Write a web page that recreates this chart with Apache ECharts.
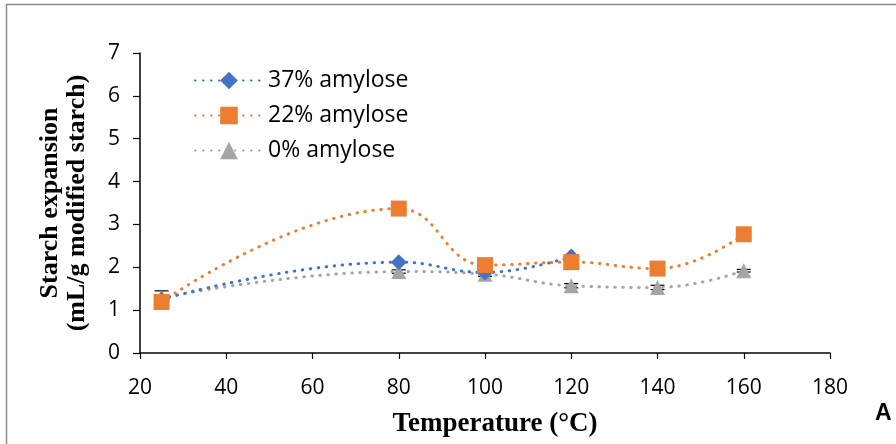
<!DOCTYPE html>
<html>
<head>
<meta charset="utf-8">
<script src="https://cdn.jsdelivr.net/npm/echarts@6/dist/echarts.min.js"></script>
<style>
  html, body { margin: 0; padding: 0; background: #fff; }
  #chart { width: 896px; height: 444px; }
</style>
</head>
<body>
<div id="chart"></div>
<script>
// Starch expansion vs. temperature for three amylose contents
const temperature37 = [25, 80, 100, 120];
const amylose37 = [1.25, 2.12, 1.88, 2.25];
const temperature22 = [25, 80, 100, 120, 140, 160];
const amylose22 = [1.19, 3.37, 2.05, 2.12, 1.97, 2.77];
const temperature0 = [25, 80, 100, 120, 140, 160];
const amylose0 = [1.29, 1.90, 1.84, 1.57, 1.53, 1.92];
// standard deviations for the 0% amylose samples
const errors0 = [0.16, 0.04, 0.05, 0.05, 0.05, 0.03];

const xTicks = [20, 40, 60, 80, 100, 120, 140, 160, 180];
const yTicks = [0, 1, 2, 3, 4, 5, 6, 7];

const pairs = (xs, ys) => xs.map((x, i) => [x, ys[i]]);

const dotted = color => ({ color: color, width: 3, type: [0.5, 7.5], cap: 'round' });

const sansFont = '"Open Sans", "Liberation Sans", sans-serif';
const serifFont = '"Liberation Serif", "Times New Roman", serif';

const chart = echarts.init(document.getElementById('chart'));

const errorBars = {
  type: 'custom',
  silent: true,
  z: 1,
  data: temperature0.map((x, i) => [x, amylose0[i] - errors0[i], amylose0[i] + errors0[i]]),
  renderItem: function (params, api) {
    const lo = api.coord([api.value(0), api.value(1)]);
    const hi = api.coord([api.value(0), api.value(2)]);
    const w = 7;
    return {
      type: 'group',
      children: [
        { type: 'line', shape: { x1: lo[0], y1: lo[1], x2: hi[0], y2: hi[1] }, style: { stroke: '#000', lineWidth: 1.2 } },
        { type: 'line', shape: { x1: lo[0] - w, y1: lo[1], x2: lo[0] + w, y2: lo[1] }, style: { stroke: '#000', lineWidth: 1.2 } },
        { type: 'line', shape: { x1: hi[0] - w, y1: hi[1], x2: hi[0] + w, y2: hi[1] }, style: { stroke: '#000', lineWidth: 1.2 } }
      ]
    };
  }
};

chart.setOption({
  animation: false,
  backgroundColor: '#fff',
  graphic: [{
    type: 'rect',
    shape: { x: 6.5, y: 4.5, width: 900, height: 450 },
    style: { fill: 'none', stroke: '#8c8c8c', lineWidth: 1.5 },
    silent: true
  }, {
    type: 'text',
    left: 875, top: 402,
    style: { text: 'A', font: 'bold 23px "Liberation Sans", Arial, sans-serif', fill: '#000' }
  }],
  grid: { left: 140, right: 66, top: 53, bottom: 91, containLabel: false },
  legend: {
    orient: 'vertical',
    left: 189, top: 64,
    itemWidth: 68, itemHeight: 22,
    itemGap: 12,
    textStyle: { fontFamily: sansFont, fontSize: 23, color: '#000', padding: [0, 0, 0, 0] },
    data: ['37% amylose', '22% amylose', '0% amylose']
  },
  xAxis: {
    type: 'value',
    min: xTicks[0], max: xTicks[xTicks.length - 1], interval: 20,
    name: 'Temperature (°C)',
    nameLocation: 'middle', nameGap: 58,
    nameTextStyle: { fontFamily: serifFont, fontWeight: 'bold', fontSize: 27, color: '#000', padding: [0, 0, 0, 20] },
    axisLine: { onZero: false, lineStyle: { color: '#000', width: 1.5 } },
    axisTick: { show: true, inside: false, length: 6, lineStyle: { color: '#000', width: 1.2 } },
    axisLabel: { fontFamily: sansFont, fontSize: 21, color: '#000', margin: 25 },
    splitLine: { show: false }
  },
  yAxis: {
    type: 'value',
    min: yTicks[0], max: yTicks[yTicks.length - 1], interval: 1,
    name: 'Starch expansion\n(mL/g modified starch)',
    nameLocation: 'middle', nameGap: 49,
    nameRotate: 90,
    nameTextStyle: { fontFamily: serifFont, fontWeight: 'bold', fontSize: 26, color: '#000', lineHeight: 27 },
    axisLine: { show: true, lineStyle: { color: '#000', width: 1.5 } },
    axisTick: { show: true, inside: false, length: 7, lineStyle: { color: '#000', width: 1.2 } },
    axisLabel: { fontFamily: sansFont, fontSize: 21, color: '#000', margin: 20 },
    splitLine: { show: false }
  },
  series: [
    errorBars,
    {
      name: '0% amylose', type: 'line', smooth: 0.45, z: 2,
      data: pairs(temperature0, amylose0),
      symbol: 'triangle', symbolSize: 15,
      itemStyle: { color: '#A5A5A5' },
      lineStyle: dotted('#A5A5A5')
    },
    {
      name: '37% amylose', type: 'line', smooth: 0.45, z: 3,
      data: pairs(temperature37, amylose37),
      symbol: 'diamond', symbolSize: 16,
      itemStyle: { color: '#4472C4' },
      lineStyle: dotted('#4472C4')
    },
    {
      name: '22% amylose', type: 'line', smooth: 0.45, z: 4,
      data: pairs(temperature22, amylose22),
      symbol: 'rect', symbolSize: 16,
      itemStyle: { color: '#ED7D31' },
      lineStyle: dotted('#ED7D31')
    }
  ]
});
</script>
</body>
</html>
